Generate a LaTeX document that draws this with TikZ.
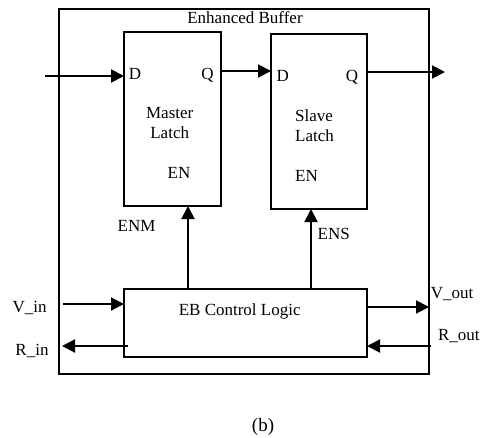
\documentclass[tikz,border=0pt]{standalone}
\usepackage{fontspec}
\setmainfont{Liberation Serif}
\usetikzlibrary{arrows.meta}
\begin{document}
\begin{tikzpicture}[x=1pt,y=-1pt,
  box/.style={draw,line width=2pt,inner sep=0pt,outer sep=0pt},
  arr/.style={line width=2pt,-{Triangle[length=13pt,width=13pt]}},
  lbl/.style={inner sep=0pt,anchor=base,font=\fontsize{17}{19}\selectfont}]
\useasboundingbox (0,0) rectangle (486,437);
\node[box,minimum width=370pt,minimum height=365pt] (outer) at (244,191.5) {};
\node[box,minimum width=97pt,minimum height=174pt] (master) at (172.5,119) {};
\node[box,minimum width=96pt,minimum height=175pt] (slave) at (319,121.5) {};
\node[box,minimum width=243pt,minimum height=68pt] (ctrl) at (245.5,323) {};
% labels
\node[lbl] (title) at (245,23.3) {Enhanced Buffer};
\node[lbl] (md) at (135,79) {D};
\node[lbl] (mq) at (207.5,79) {Q};
\node[lbl] (mt1) at (169.7,118.3) {Master};
\node[lbl] (mt2) at (169.7,138.3) {Latch};
\node[lbl] (men) at (179,178.3) {EN};
\node[lbl] (sd) at (282.7,81) {D};
\node[lbl] (sq) at (352,81) {Q};
\node[lbl,anchor=base west] (st1) at (295,121.7) {Slave};
\node[lbl,anchor=base west] (st2) at (295,141) {Latch};
\node[lbl,anchor=base west] (sen) at (295,181.7) {EN};
\node[lbl] (enm) at (136.5,231.7) {ENM};
\node[lbl] (ens) at (333.8,239.3) {ENS};
\node[lbl] (ctxt) at (239.7,315) {EB Control Logic};
\node[lbl] (vin) at (29.7,312.3) {V\_in};
\node[lbl] (rin) at (32,355) {R\_in};
\node[lbl] (vout) at (452,298.3) {V\_out};
\node[lbl] (rout) at (458.8,340.7) {R\_out};
\node[lbl,font=\fontsize{19}{21}\selectfont] (cap) at (263,431) {(b)};
% coordinates
\coordinate (din) at (45,76);
\coordinate (mqy) at (0,71);
\coordinate (sout) at (445,72);
\coordinate (enmx) at (188,0);
\coordinate (ensx) at (311,0);
\coordinate (vinc) at (63,304);
\coordinate (rinc) at (62,346);
\coordinate (voutc) at (0,307);
\coordinate (routc) at (431,346);
% connectors
\draw[arr] (din) -- (din -| master.west);
\draw[arr] (master.east |- mqy) -- (slave.west |- mqy);
\draw[arr] (slave.east |- sout) -- (sout);
\draw[arr] (ctrl.north -| enmx) -- (master.south -| enmx);
\draw[arr] (ctrl.north -| ensx) -- (slave.south -| ensx);
\draw[arr] (vinc) -- (vinc -| ctrl.west);
\draw[arr] ([xshift=4pt]ctrl.west |- rinc) -- (rinc);
\draw[arr] (ctrl.east |- voutc) -- (outer.east |- voutc);
\draw[arr] (routc) -- (routc -| ctrl.east);
\end{tikzpicture}
\end{document}
